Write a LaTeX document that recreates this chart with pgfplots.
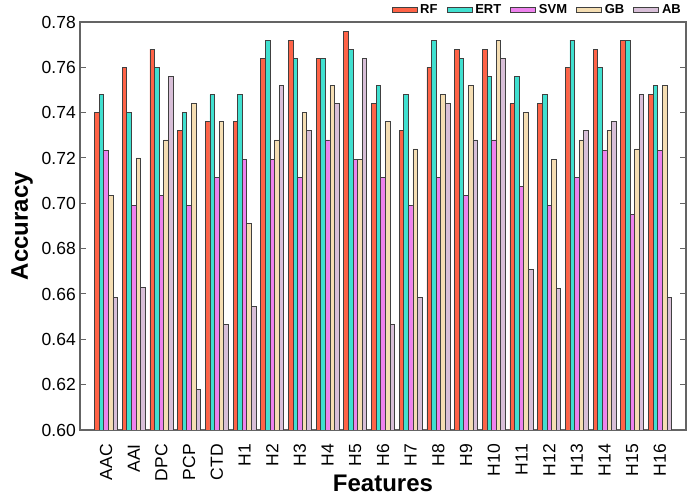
\documentclass[border=0pt]{standalone}
\usepackage{pgfplots}
\usepackage{pgfplotstable}
\pgfplotsset{compat=1.18}
\usepackage{fontspec}
\setmainfont{Liberation Sans}
\definecolor{cRF}{RGB}{255,99,71}
\definecolor{cERT}{RGB}{64,224,208}
\definecolor{cSVM}{RGB}{238,130,238}
\definecolor{cGB}{RGB}{245,222,179}
\definecolor{cAB}{RGB}{216,191,216}
\definecolor{axgray}{RGB}{100,100,100}
\pgfplotstableread{
X Feat RF ERT SVM GB AB
0 AAC 0.740 0.748 0.7235 0.7035 0.6585
1 AAI 0.760 0.740 0.699 0.720 0.663
2 DPC 0.768 0.760 0.7035 0.728 0.756
3 PCP 0.732 0.740 0.699 0.744 0.618
4 CTD 0.736 0.748 0.7115 0.736 0.6465
5 H1 0.736 0.748 0.7195 0.691 0.6545
6 H2 0.764 0.772 0.7195 0.728 0.752
7 H3 0.772 0.764 0.7115 0.740 0.732
8 H4 0.764 0.764 0.728 0.752 0.744
9 H5 0.776 0.768 0.7195 0.7195 0.764
10 H6 0.744 0.752 0.7115 0.736 0.6465
11 H7 0.732 0.748 0.699 0.724 0.6585
12 H8 0.760 0.772 0.7115 0.748 0.744
13 H9 0.768 0.764 0.7035 0.752 0.728
14 H10 0.768 0.756 0.728 0.772 0.764
15 H11 0.744 0.756 0.7075 0.740 0.671
16 H12 0.744 0.748 0.699 0.7195 0.6625
17 H13 0.760 0.772 0.7115 0.728 0.732
18 H14 0.768 0.760 0.7235 0.732 0.736
19 H15 0.772 0.772 0.695 0.724 0.748
20 H16 0.748 0.752 0.7235 0.752 0.6585
}\datatable
\begin{document}
\begin{tikzpicture}
\begin{axis}[
  width=606pt, height=408pt, scale only axis,
  xmin=-0.94, xmax=20.94,
  ymin=0.60, ymax=0.78,
  ytick={0.60,0.62,0.64,0.66,0.68,0.70,0.72,0.74,0.76,0.78},
  /pgf/number format/assume math mode=true,
  xtick={0,...,20},
  xticklabels={AAC,AAI,DPC,PCP,CTD,H1,H2,H3,H4,H5,H6,H7,H8,H9,H10,H11,H12,H13,H14,H15,H16},
  xticklabel style={rotate=90, anchor=east, inner sep=0pt, xshift=-8pt, font=\fontsize{17.5}{20}\selectfont},
  yticklabel style={/pgf/number format/fixed, /pgf/number format/fixed zerofill, /pgf/number format/precision=2, inner sep=0pt, xshift=-4pt, font=\fontsize{17.5}{20}\selectfont},
  major x tick style={draw=none},
  tick align=inside,
  ytick pos=both,
  major tick length=6pt,
  tick style={axgray, line width=1pt},
  axis line style={axgray, line width=1.3pt},
  xlabel={\bfseries Features},
  ylabel={\bfseries Accuracy},
  label style={font=\fontsize{24}{28}\selectfont},
  xlabel style={at={(axis description cs:0.5,0)}, anchor=center, inner sep=0pt, yshift=-53pt},
  ylabel style={at={(axis description cs:0,0.5)}, anchor=center, inner sep=0pt, yshift=58pt},
  ybar, bar width=0.166,
  every axis plot/.append style={draw=black!75, line width=0.7pt},
  legend columns=5,
  legend image code/.code={\draw[#1] (0pt,-2.8pt) rectangle (25pt,2.8pt);},
  legend style={at={(axis description cs:1,1)}, anchor=east, xshift=-2pt, yshift=12pt,
    draw=none, fill=none, inner sep=0pt,
    font=\bfseries\fontsize{13}{14}\selectfont,
    nodes={inner xsep=3pt, inner ysep=0pt},
    /tikz/every even column/.append style={column sep=6pt}},
]
\addplot[fill=cRF, bar shift=-0.332] table[x=X,y=RF] {\datatable};
\addlegendentry{RF}
\addplot[fill=cERT, bar shift=-0.166] table[x=X,y=ERT] {\datatable};
\addlegendentry{ERT}
\addplot[fill=cSVM, bar shift=0] table[x=X,y=SVM] {\datatable};
\addlegendentry{SVM}
\addplot[fill=cGB, bar shift=0.166] table[x=X,y=GB] {\datatable};
\addlegendentry{GB}
\addplot[fill=cAB, bar shift=0.332] table[x=X,y=AB] {\datatable};
\addlegendentry{AB}
\coordinate (sw) at (rel axis cs:0,0);
\coordinate (ne) at (rel axis cs:1,1);
\end{axis}
\pgfresetboundingbox
\path[use as bounding box] ([shift={(-80pt,-67pt)}]sw) rectangle ([shift={(3pt,22pt)}]ne);
\end{tikzpicture}
\end{document}
